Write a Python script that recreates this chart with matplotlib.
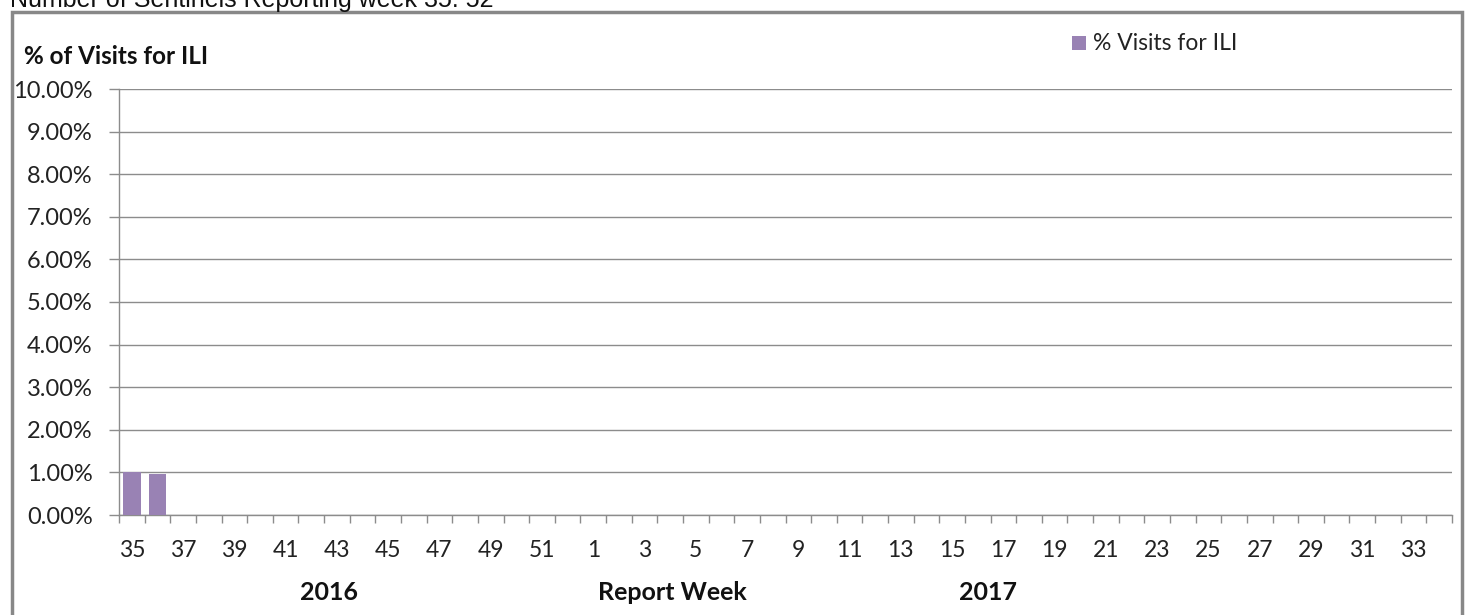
import matplotlib
matplotlib.use("Agg")
import matplotlib.pyplot as plt
import numpy as np
from matplotlib.patches import Rectangle

# ---- data ----
weeks = list(range(35, 53)) + list(range(1, 35))
pct_visits_ili = [1.00, 0.97] + [np.nan] * 50  # percent
y_ticks = [0, 1, 2, 3, 4, 5, 6, 7, 8, 9, 10]
title_text = "Number of Sentinels Reporting week 35: 52"
y_title = "% of Visits for ILI"
series_name = "% Visits for ILI"
year_labels = ["2016", "Report Week", "2017"]

W, H = 1467, 615
fig = plt.figure(figsize=(W / 100, H / 100), dpi=100)
plt.rcParams['font.family'] = ['Lato', 'DejaVu Sans']

def fx(px):
    return px / W

def fy(py):
    return 1 - py / H

BAR = "#9982B4"
GRID = "#8c8c8c"
TXT = "#222222"

ax = fig.add_axes([fx(119), fy(515), fx(1452) - fx(119), fy(89) - fy(515)])
x = np.arange(len(weeks))
vals = np.array(pct_visits_ili, dtype=float)
ax.bar(x, np.nan_to_num(vals), width=0.68, color=BAR, zorder=3, label=series_name)

ax.set_xlim(-0.5, len(weeks) - 0.5)
ax.set_ylim(0, 10)
ax.set_yticks(y_ticks)
ax.set_yticklabels([f"{v:.2f}%" for v in y_ticks], fontsize=17, color=TXT)
ax.yaxis.grid(True, color=GRID, linewidth=1.0, zorder=0)
ax.tick_params(axis='y', length=7, width=1, color=GRID, pad=12)

ax.set_xticks(x[::2])
ax.set_xticklabels([str(w) for w in weeks[::2]], fontsize=16.5, color=TXT)
ax.set_xticks(np.arange(len(weeks) + 1) - 0.5, minor=True)
ax.tick_params(axis='x', which='major', length=0, pad=18)
ax.tick_params(axis='x', which='minor', length=6, width=1, color=GRID)

for s in ['top', 'right']:
    ax.spines[s].set_visible(False)
for s in ['left', 'bottom']:
    ax.spines[s].set_color(GRID)
    ax.spines[s].set_linewidth(1.0)

# outer chart border
fig.patches.append(Rectangle((fx(11.5), fy(620)), fx(1462) - fx(11.5), fy(11.5) - fy(620),
                             transform=fig.transFigure, fill=False,
                             edgecolor="#888888", linewidth=2.5, zorder=0))

fig.text(fx(10), fy(6.5), title_text, fontsize=18, family=['Liberation Sans', 'DejaVu Sans'],
         ha='left', va='baseline', color="#111111")
fig.text(fx(24), fy(56), y_title, fontsize=17.5, fontweight='bold', ha='left', va='center', color="#111111")

# legend
fig.patches.append(Rectangle((fx(1072), fy(50)), fx(14), fy(36) - fy(50),
                             transform=fig.transFigure, facecolor=BAR, edgecolor='none'))
fig.text(fx(1093), fy(43), series_name, fontsize=16.5, ha='left', va='center', color=TXT)

for label, px in zip(year_labels, [329, 672, 988]):
    fig.text(fx(px), fy(592), label, fontsize=18, fontweight='bold', ha='center', va='center', color="#111111")

fig.savefig("out.png", dpi=100)
